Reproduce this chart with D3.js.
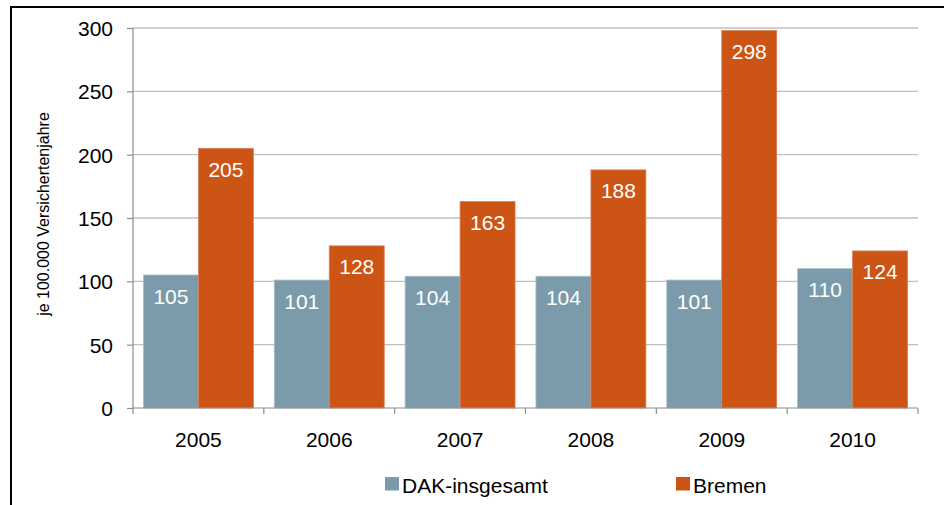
<!DOCTYPE html>
<html>
<head>
<meta charset="utf-8">
<script src="https://cdn.jsdelivr.net/npm/d3@7"></script>
<style>
  html, body { margin: 0; padding: 0; background: #fff; }
  svg { display: block; font-family: "Liberation Sans", Arial, sans-serif; }
</style>
</head>
<body>
<svg id="chart" width="944" height="505"></svg>
<script>
// Rates per 100,000 insured years
const years = ["2005", "2006", "2007", "2008", "2009", "2010"];
const seriesNames = ["DAK-insgesamt", "Bremen"];
const dakValues = [105, 101, 104, 104, 101, 110];
const bremenValues = [205, 128, 163, 188, 298, 124];
const yTicks = [0, 50, 100, 150, 200, 250, 300];
const colors = ["#7b9bab", "#cc5515"];

const svg = d3.select("#chart");
const margin = { left: 133, right: 26, top: 28, bottom: 97 };
const W = 944, H = 505;
const x0 = margin.left, x1 = W - margin.right;
const yTop = margin.top, yBottom = H - margin.bottom;
const FONT = "Liberation Sans, Arial, sans-serif";

// outer frame
svg.append("rect")
  .attr("x", 11).attr("y", 7)
  .attr("width", 960).attr("height", 520)
  .attr("fill", "none").attr("stroke", "#000").attr("stroke-width", 2);

const x = d3.scaleBand().domain(years).range([x0, x1]).paddingInner(0).paddingOuter(0);
const xs = d3.scaleBand().domain(seriesNames).range([0, x.bandwidth()]).paddingOuter(0.19).paddingInner(0);
const y = d3.scaleLinear().domain([0, 300]).range([yBottom, yTop]);

// horizontal gridlines
svg.append("g").selectAll("line").data(yTicks.filter(d => d > 0)).join("line")
  .attr("x1", x0).attr("x2", x1)
  .attr("y1", d => y(d)).attr("y2", d => y(d))
  .attr("stroke", "#bfbfbf").attr("stroke-width", 1.3);

// bars
const rows = years.map((yr, i) => ({ year: yr, values: [dakValues[i], bremenValues[i]] }));
const groups = svg.append("g").selectAll("g").data(rows).join("g")
  .attr("transform", d => `translate(${x(d.year)},0)`);

groups.selectAll("rect").data(d => d.values.map((v, k) => ({ k, v }))).join("rect")
  .attr("x", d => xs(seriesNames[d.k]))
  .attr("y", d => y(d.v))
  .attr("width", xs.bandwidth())
  .attr("height", d => y(0) - y(d.v))
  .attr("fill", d => colors[d.k])
  .attr("stroke", d => d.k === 0 ? "#a9bec9" : "#d9825a")
  .attr("stroke-width", 0.8);

groups.selectAll("text").data(d => d.values.map((v, k) => ({ k, v }))).join("text")
  .attr("x", d => xs(seriesNames[d.k]) + xs.bandwidth() / 2)
  .attr("y", d => y(d.v) + 21)
  .attr("text-anchor", "middle")
  .attr("dominant-baseline", "central")
  .attr("fill", "#fff")
  .attr("font-family", FONT)
  .attr("font-size", 21)
  .text(d => d.v);

// y axis
const yAxis = svg.append("g").attr("transform", `translate(${x0},0)`)
  .call(d3.axisLeft(y).tickValues(yTicks).tickSize(6).tickPadding(14));
yAxis.attr("font-family", FONT);
yAxis.select(".domain").attr("stroke", "#8c8c8c").attr("stroke-width", 1.2).attr("d", `M0,${yTop}V${yBottom}`);
yAxis.selectAll(".tick line").attr("stroke", "#8c8c8c").attr("stroke-width", 1.2);
yAxis.selectAll(".tick text").attr("font-size", 21).attr("fill", "#000").attr("dy", "0.35em");

// x axis
const xAxis = svg.append("g").attr("transform", `translate(0,${yBottom})`)
  .call(d3.axisBottom(x).tickSize(0).tickPadding(24));
xAxis.attr("font-family", FONT);
xAxis.select(".domain").attr("stroke", "#8c8c8c").attr("stroke-width", 1.2).attr("d", `M${x0},0H${x1}`);
xAxis.selectAll(".tick text").attr("font-size", 21).attr("fill", "#000");
// category separators below the baseline
svg.append("g").selectAll("line").data(d3.range(years.length + 1)).join("line")
  .attr("x1", i => x0 + i * x.bandwidth()).attr("x2", i => x0 + i * x.bandwidth())
  .attr("y1", yBottom).attr("y2", yBottom + 6)
  .attr("stroke", "#8c8c8c").attr("stroke-width", 1.2);

// y axis title
svg.append("text")
  .attr("transform", `translate(49,${(yTop + yBottom) / 2 - 4}) rotate(-90)`)
  .attr("text-anchor", "middle")
  .attr("font-family", FONT)
  .attr("font-size", 16)
  .attr("fill", "#000")
  .text("je 100.000 Versichertenjahre");

// legend
const legendX = [385, 676];
const legend = svg.append("g").selectAll("g").data(seriesNames).join("g")
  .attr("transform", (d, i) => `translate(${legendX[i]},477)`);
legend.append("rect").attr("width", 14).attr("height", 13.5).attr("fill", (d, i) => colors[i]);
legend.append("text").attr("x", 17).attr("y", 15.5)
  .attr("font-family", FONT)
  .attr("font-size", 21).attr("fill", "#000").text(d => d);
</script>
</body>
</html>
